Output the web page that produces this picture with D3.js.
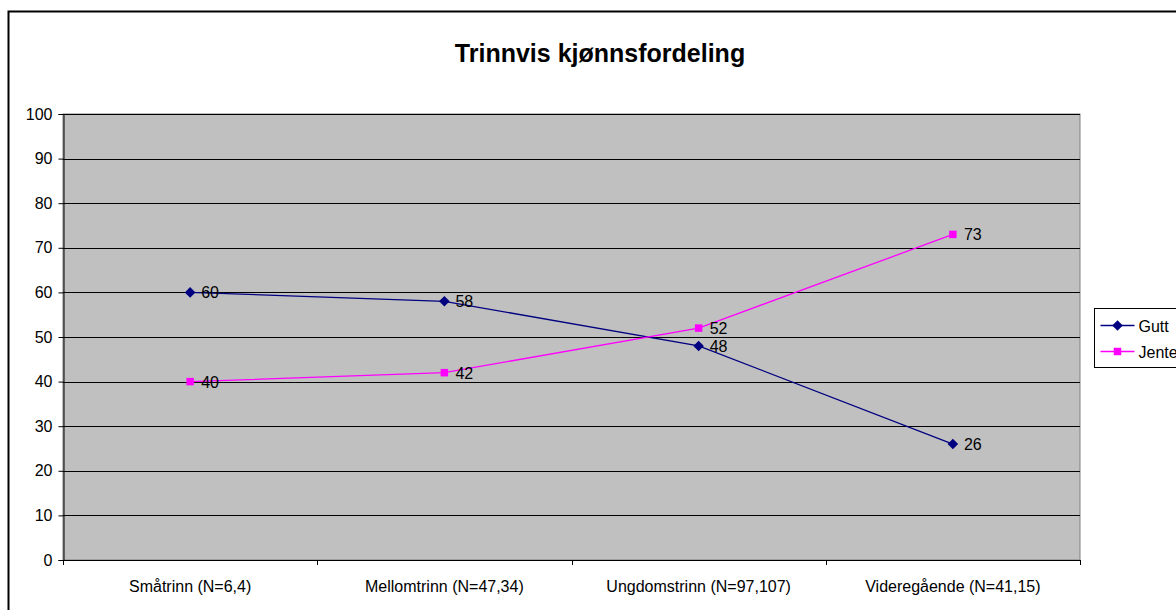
<!DOCTYPE html>
<html>
<head>
<meta charset="utf-8">
<script src="https://cdn.jsdelivr.net/npm/d3@7"></script>
<style>
  body { margin: 0; background: #fff; }
  svg { display: block; font-family: "Liberation Sans", Arial, sans-serif; }
</style>
</head>
<body>
<div id="chart"></div>
<script>
// data
var categories = ["Småtrinn (N=6,4)", "Mellomtrinn (N=47,34)", "Ungdomstrinn (N=97,107)", "Videregående (N=41,15)"];
var gutt = [60, 58, 48, 26];
var jente = [40, 42, 52, 73];
var yTicks = [0, 10, 20, 30, 40, 50, 60, 70, 80, 90, 100];
var seriesNames = ["Gutt", "Jente"];

var W = 1176, H = 610;
var margin = {top: 114, right: 96, bottom: 50, left: 63};
var width = 1080 - margin.left,
    height = 560 - margin.top;

var svg = d3.select("#chart").append("svg")
  .attr("width", W)
  .attr("height", H);

// outer chart border (runs off the right / bottom edge)
svg.append("rect")
  .attr("x", 8.5).attr("y", 11.5)
  .attr("width", 1200).attr("height", 620)
  .attr("fill", "#fff")
  .attr("stroke", "#000").attr("stroke-width", 2);

svg.append("text")
  .attr("x", 600).attr("y", 62)
  .attr("text-anchor", "middle")
  .attr("font-size", "25px").attr("font-weight", "bold")
  .text("Trinnvis kjønnsfordeling");

var g = svg.append("g")
  .attr("transform", "translate(" + margin.left + "," + margin.top + ")");

var xScale = d3.scaleBand().domain(categories).range([0, width]);
var yScale = d3.scaleLinear().domain([0, 100]).range([height, 0]);

// plot area
g.append("rect")
  .attr("width", width).attr("height", height)
  .attr("fill", "#c0c0c0")
  .attr("stroke", "#808080").attr("stroke-width", 1);

// gridlines
g.selectAll(".grid").data(yTicks.slice(1)).enter().append("line")
  .attr("x1", 0).attr("x2", width)
  .attr("y1", function(d){ return Math.round(yScale(d)) + 0.5; })
  .attr("y2", function(d){ return Math.round(yScale(d)) + 0.5; })
  .attr("stroke", "#000").attr("stroke-width", 1);

// y axis
var yAxis = d3.axisLeft(yScale).tickValues(yTicks).tickSize(5).tickPadding(6);
var yG = g.append("g").attr("transform", "translate(0.5,0)").call(yAxis);
yG.select(".domain").attr("stroke", "#000");
yG.selectAll("text").attr("font-size", "16px").attr("fill", "#000")
  .attr("font-family", "Liberation Sans, Arial, sans-serif");

// x axis, ticks between categories
var xAxis = d3.axisBottom(xScale).tickSize(0).tickPadding(20);
var xG = g.append("g").attr("transform", "translate(0," + (height + 0.5) + ")").call(xAxis);
xG.select(".domain").remove();
xG.selectAll("text").attr("font-size", "16px").attr("fill", "#000")
  .attr("font-family", "Liberation Sans, Arial, sans-serif");
g.append("line").attr("x1", 0).attr("x2", width)
  .attr("y1", height + 0.5).attr("y2", height + 0.5).attr("stroke", "#000");
var bounds = categories.map(function(c){ return xScale(c); }).concat([width]);
g.selectAll(".xtick").data(bounds).enter().append("line")
  .attr("x1", function(d){ return Math.round(d) + 0.5; })
  .attr("x2", function(d){ return Math.round(d) + 0.5; })
  .attr("y1", height).attr("y2", height + 5)
  .attr("stroke", "#000");

function cx(i){ return xScale(categories[i]) + xScale.bandwidth() / 2; }

var line = d3.line()
  .x(function(d, i){ return cx(i); })
  .y(function(d){ return yScale(d); });

var series = [
  {name: seriesNames[0], values: gutt, color: "#000080", rot: 45},
  {name: seriesNames[1], values: jente, color: "#ff00ff", rot: 0}
];
var marker = d3.symbol().type(d3.symbolSquare).size(56);

series.forEach(function(s){
  g.append("path").attr("d", line(s.values))
    .attr("fill", "none").attr("stroke", s.color).attr("stroke-width", 1.3);
  g.selectAll(null).data(s.values).enter().append("path")
    .attr("transform", function(d, i){ return "translate(" + cx(i) + "," + yScale(d) + ") rotate(" + s.rot + ")"; })
    .attr("d", marker)
    .attr("fill", s.color);
  g.selectAll(null).data(s.values).enter().append("text")
    .attr("x", function(d, i){ return cx(i) + 11; })
    .attr("y", function(d){ return yScale(d) + 6; })
    .attr("font-size", "16px").attr("fill", "#000")
    .text(function(d){ return d; });
});

// legend
var leg = svg.append("g").attr("transform", "translate(1094.5,308.5)");
leg.append("rect").attr("width", 110).attr("height", 59)
  .attr("fill", "#fff").attr("stroke", "#000");
series.forEach(function(s, i){
  var y = 17 + i * 26;
  leg.append("line").attr("x1", 6).attr("x2", 40).attr("y1", y).attr("y2", y)
    .attr("stroke", s.color).attr("stroke-width", 1.3);
  leg.append("path").attr("transform", "translate(23," + y + ") rotate(" + s.rot + ")")
    .attr("d", marker)
    .attr("fill", s.color);
  leg.append("text").attr("x", 44).attr("y", y + 6)
    .attr("font-size", "16px").attr("fill", "#000").text(s.name);
});
</script>
</body>
</html>
